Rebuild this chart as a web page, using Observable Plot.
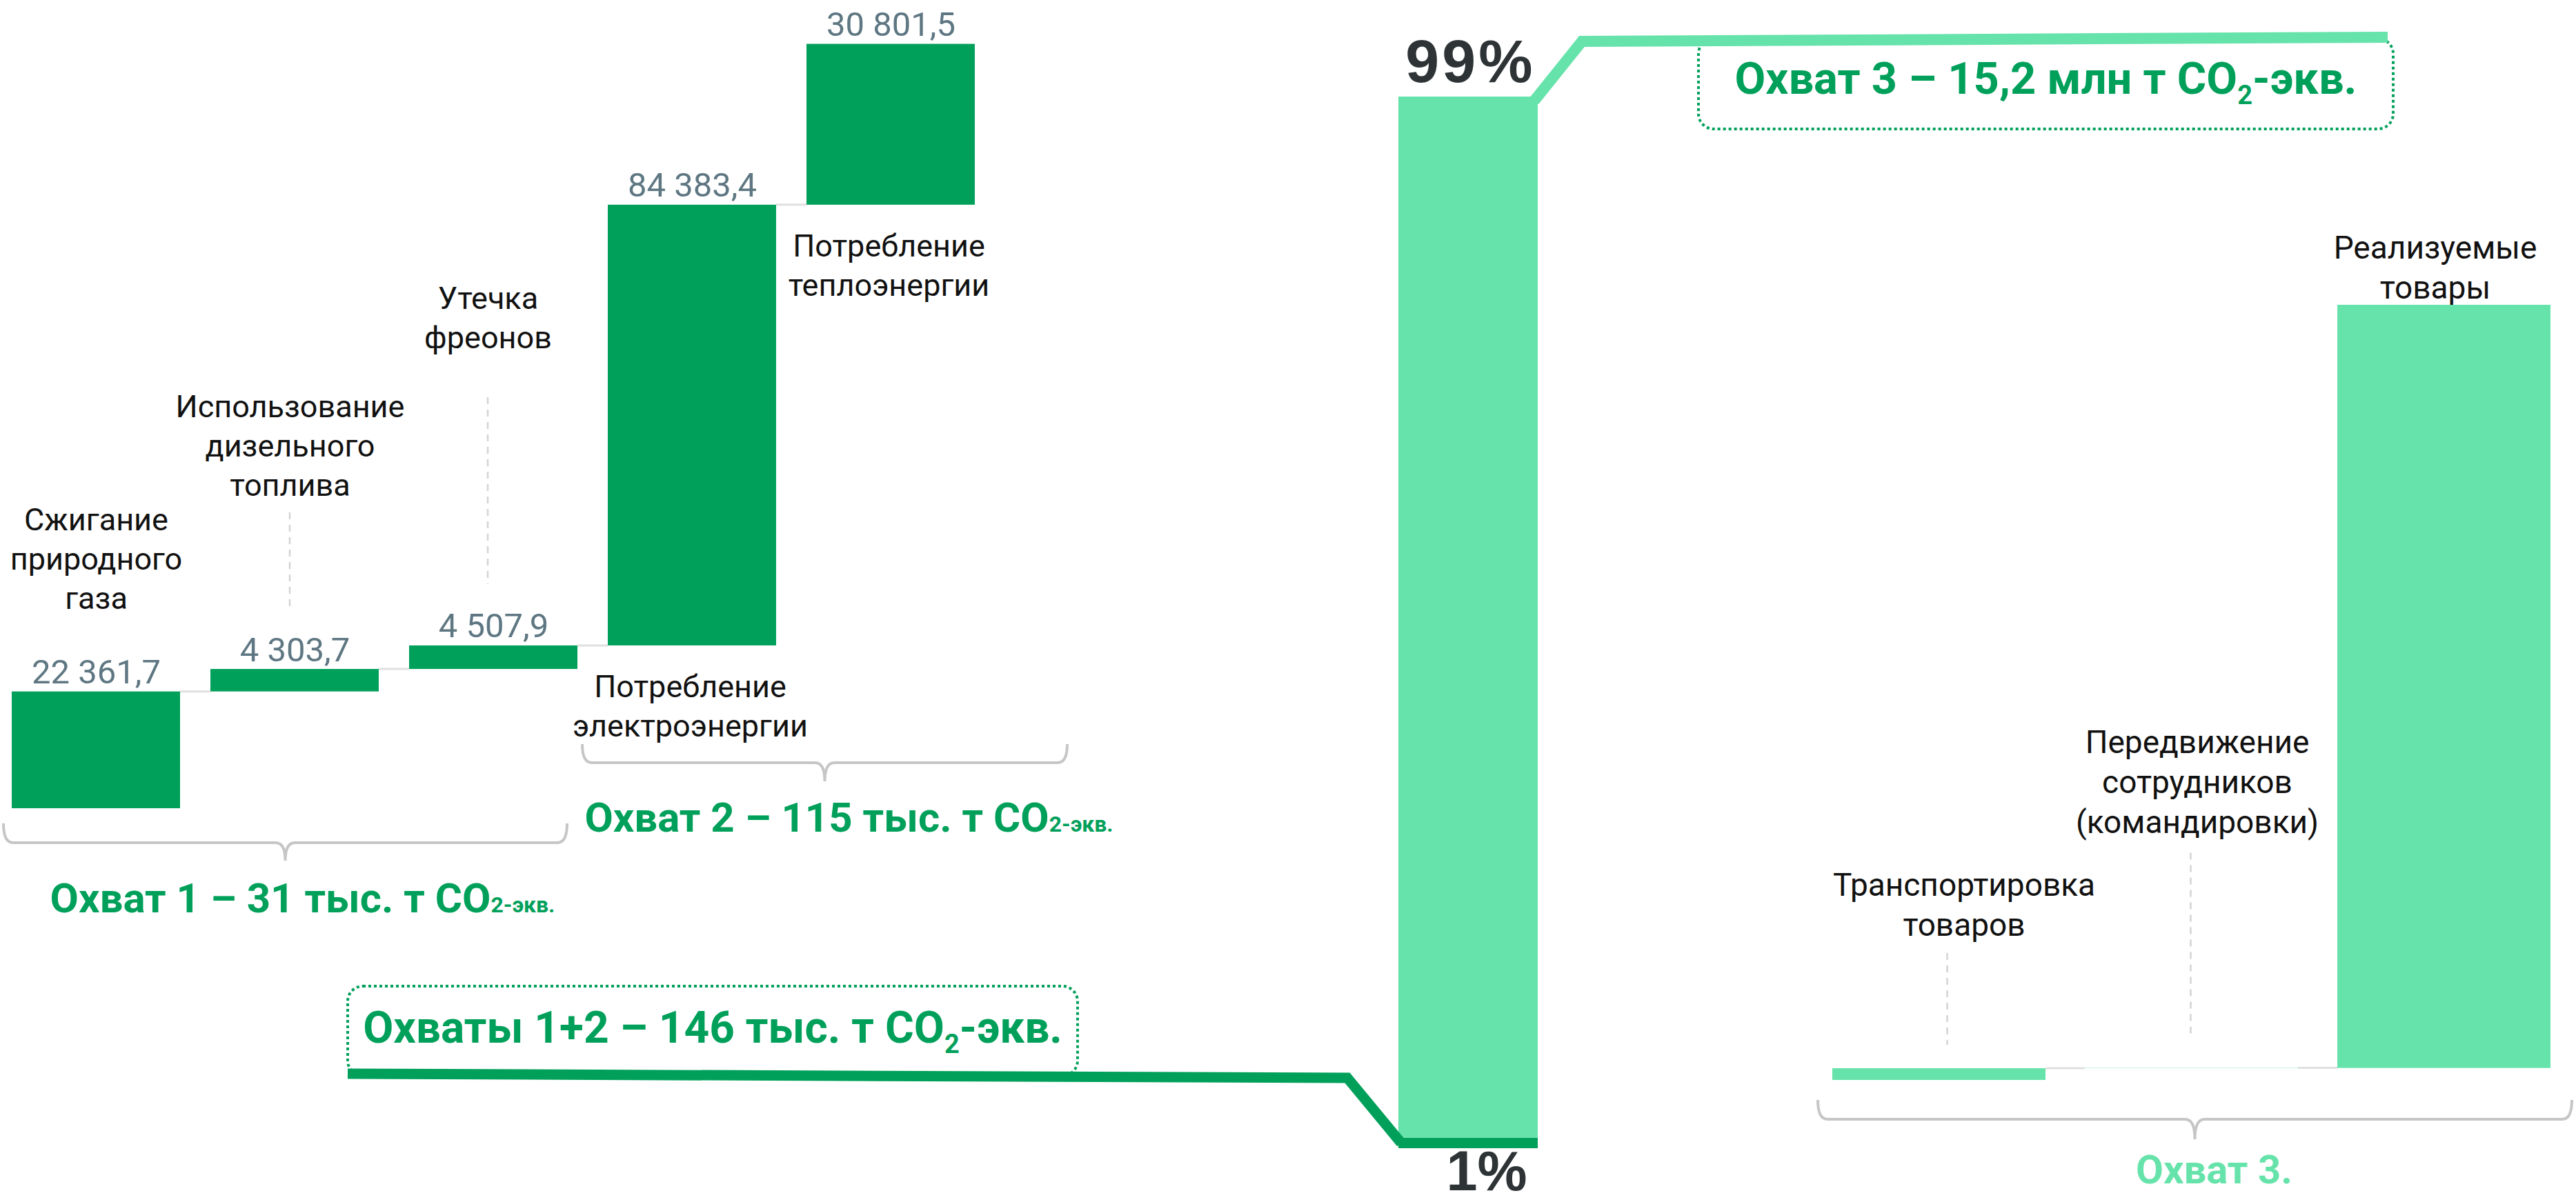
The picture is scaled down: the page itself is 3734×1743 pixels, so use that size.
<!DOCTYPE html>
<html><head><meta charset="utf-8">
<script src="https://cdn.jsdelivr.net/npm/d3@7"></script>
<script src="https://cdn.jsdelivr.net/npm/@observablehq/plot@0.6"></script>
<style>
html,body{margin:0;padding:0;background:#fff;}
#chart{position:relative;width:3734px;height:1743px;overflow:hidden;}
#chart svg{position:absolute;left:0;top:0;}
#chart g[aria-description="pct-top"] text{letter-spacing:4px;}
</style></head><body><div id="chart"></div>
<script>
// ---------------- DATA ----------------
const scope12Names = ["Сжигание природного газа", "Использование дизельного топлива", "Утечка фреонов", "Потребление электроэнергии", "Потребление теплоэнергии"];
const scope12Labels = ["Сжигание\nприродного\nгаза", "Использование\nдизельного\nтоплива", "Утечка\nфреонов", "Потребление\nэлектроэнергии", "Потребление\nтеплоэнергии"];
const scope12Values = [22361.7, 4303.7, 4507.9, 84383.4, 30801.5]; // т CO2-экв.
const scope12Scope = [1, 1, 1, 2, 2];

const scope3Names = ["Транспортировка товаров", "Передвижение сотрудников (командировки)", "Реализуемые товары"];
const scope3Labels = ["Транспортировка\nтоваров", "Передвижение\nсотрудников\n(командировки)", "Реализуемые\nтовары"];
const scope3Values = [230, 5, 14965]; // тыс. т CO2-экв. (оценка по рисунку)

const shareNames = ["Охваты 1+2", "Охват 3"];
const shareValues = [1, 99]; // %

// ---------------- LAYOUT & STYLE ----------------
const W = 3734, H = 1743;
const COL = {dark: "#00a05a", light: "#66e3aa", value: "#5e7782", text: "#111111", pct: "#2e3436",
             brace: "#c6c6c6", conn: "#e0e0e0", lead: "#d3d3d3"};
const FONT = "Roboto, 'Noto Sans', sans-serif";
const PCT_FONT = "'Liberation Sans', Arial, sans-serif";
const A = {x0: 15, x1: 1416, base: 1172, top: 36, yMax: 150000, pad: 0.1522};
const B = {x0: 2027, x1: 2229, base: 1665, top: 140};
const Cc = {x0: 2655, x1: 3699, base: 1566, top: 87, yMax: 20000, pad: 0.155};
const labelLiftA = [120, 252, 431], labelDxA = [0, -7, -8];
const leadA = {1: [25, 91], 2: [71, 89]};
const labelLiftC = [192, 341, 9], labelDxC = [36, 8, -13];
const leadC = {0: [25, 34, 12], 1: [29, 43, -1]};
const box12 = {x0: 504, x1: 1562, y0: 1430, y1: 1560, textY: 1512};
const box3 = {x0: 2462, x1: 3469, y0: 56, y1: 187, textY: 136};

// ---------------- HELPERS ----------------
const ru = d3.formatLocale({decimal: ",", thousands: " ", grouping: [3], currency: ["", ""]});
const fmt1 = ru.format(",.1f");

function cumulate(names, values, extra) {
  let c = 0;
  return names.map((name, i) => { const start = c; c += values[i]; return {name, value: values[i], start, end: c, i, ...extra(i)}; });
}
const rows12 = cumulate(scope12Names, scope12Values, i => ({label: scope12Labels[i], scope: scope12Scope[i]}));
const rows3 = cumulate(scope3Names, scope3Values, i => ({label: scope3Labels[i]}));
const shareRows = cumulate(shareNames, shareValues, i => ({group: "Выбросы", pct: shareValues[i] + "%"}));

const s1 = Math.round(d3.sum(rows12.filter(d => d.scope === 1), d => d.value) / 1000);
const s2 = Math.round(d3.sum(rows12.filter(d => d.scope === 2), d => d.value) / 1000);
const s12 = Math.round(d3.sum(rows12, d => d.value) / 1000);
const s3 = ru.format(".1f")(d3.sum(rows3, d => d.value) / 1000);

function rich(g, x, y, parts, o) {
  const t = g.append("text").attr("x", x).attr("y", y).attr("text-anchor", o.anchor || "middle")
    .attr("font-family", FONT).attr("font-size", o.size).attr("font-weight", o.weight || 700).attr("fill", o.fill);
  for (const p of parts) {
    const s = t.append("tspan").text(p.t);
    if (p.size) s.attr("font-size", p.size);
    if (p.dy) s.attr("dy", p.dy);
  }
  return t;
}
function brace(g, x0, x1, yTop, yLine, yTip) {
  const xc = (x0 + x1) / 2, r = 14;
  const d = `M${x0},${yTop} Q${x0},${yLine} ${x0 + r},${yLine} L${xc - r},${yLine} Q${xc},${yLine} ${xc},${yTip}` +
            ` M${x1},${yTop} Q${x1},${yLine} ${x1 - r},${yLine} L${xc + r},${yLine} Q${xc},${yLine} ${xc},${yTip}`;
  g.append("path").attr("d", d).attr("fill", "none").attr("stroke", COL.brace).attr("stroke-width", 4);
  return xc;
}
function connectors(g, rows, x, y) {
  const bw = x.bandwidth();
  for (let i = 0; i < rows.length - 1; i++) {
    g.append("line").attr("x1", x(rows[i].name) + bw).attr("x2", x(rows[i + 1].name))
      .attr("y1", y(rows[i].end)).attr("y2", y(rows[i].end)).attr("stroke", COL.conn).attr("stroke-width", 3);
  }
}
function leader(g, xx, y1, y2) {
  g.append("line").attr("x1", xx).attr("x2", xx).attr("y1", y1).attr("y2", y2)
    .attr("stroke", COL.lead).attr("stroke-width", 2.5).attr("stroke-dasharray", "10 8");
}
const baseStyle = {background: "none", fontFamily: FONT, overflow: "visible"};

// ---------------- PLOT A : Охваты 1 и 2 ----------------
const plotA = Plot.plot({
  width: W, height: H,
  marginLeft: A.x0, marginRight: W - A.x1, marginTop: A.top, marginBottom: H - A.base,
  x: {type: "band", domain: scope12Names, paddingInner: A.pad, paddingOuter: 0, axis: null},
  y: {domain: [0, A.yMax], axis: null},
  style: baseStyle,
  marks: [
    (index, scales) => { const g = d3.create("svg:g"); connectors(g, rows12, scales.x, scales.y); return g.node(); },
    Plot.barY(rows12, {x: "name", y1: "start", y2: "end", fill: COL.dark}),
    Plot.text(rows12, {x: "name", y: "end", text: d => fmt1(d.value), dy: -12, lineAnchor: "bottom", fontSize: 49, fill: COL.value}),
    ...[0, 1, 2].map(k => Plot.text([rows12[k]], {x: "name", y: "end", text: "label", dy: -labelLiftA[k], dx: labelDxA[k],
      lineAnchor: "bottom", lineHeight: 1.267, fontSize: 45, fill: COL.text})),
    Plot.text(rows12.filter(d => d.scope === 2), {x: "name", y: "start", text: "label", dy: 34, dx: -3,
      lineAnchor: "top", lineHeight: 1.267, fontSize: 45, fill: COL.text}),
    (index, scales) => {
      const {x, y} = scales, bw = x.bandwidth(), g = d3.create("svg:g"), y0 = y(0);
      for (const k of [1, 2]) {
        const r = rows12[k], cx = x(r.name) + bw / 2 + labelDxA[k], top = y(r.end);
        leader(g, cx, top - labelLiftA[k] + leadA[k][0], top - leadA[k][1]);
      }
      const xc1 = brace(g, x(rows12[0].name) - 12, x(rows12[2].name) + bw - 15, y0 + 22, y0 + 50, y0 + 76);
      const xc2 = brace(g, x(rows12[3].name) - 37, x(rows12[4].name) + bw + 134, y0 - 93, y0 - 66, y0 - 39);
      rich(g, xc1 + 25, y0 + 151, [{t: `Охват 1 – ${s1} тыс. т CO`}, {t: "2-экв.", size: 32}], {size: 60, fill: COL.dark});
      rich(g, xc2 + 35, y0 + 34, [{t: `Охват 2 – ${s2} тыс. т CO`}, {t: "2-экв.", size: 32}], {size: 60, fill: COL.dark});
      return g.node();
    }
  ]
});

// ---------------- PLOT B : доли охватов ----------------
const bwB = B.x1 - B.x0;
const plotB = Plot.plot({
  width: W, height: H,
  marginLeft: B.x0, marginRight: W - B.x1, marginTop: B.top, marginBottom: H - B.base,
  x: {type: "band", domain: ["Выбросы"], padding: 0, axis: null},
  y: {domain: [0, 100], axis: null},
  color: {domain: shareNames, range: [COL.dark, COL.light]},
  style: baseStyle,
  marks: [
    (index, scales) => {
      const g = d3.create("svg:g");
      for (const b of [box12, box3]) {
        g.append("rect").attr("x", b.x0).attr("y", b.y0).attr("width", b.x1 - b.x0).attr("height", b.y1 - b.y0)
          .attr("rx", 22).attr("fill", "none").attr("stroke", COL.dark).attr("stroke-width", 4).attr("stroke-dasharray", "4 4");
      }
      return g.node();
    },
    Plot.barY(shareRows, {x: "group", y1: "start", y2: "end", fill: "name"}),
    Plot.text(shareRows.slice(1), {x: "group", y: "end", text: "pct", dy: -22, dx: bwB / 2 - 4, textAnchor: "end",
      lineAnchor: "bottom", fontSize: 88, fontWeight: 700, fontFamily: PCT_FONT, fill: COL.pct, ariaDescription: "pct-top"}),
    Plot.text(shareRows.slice(0, 1), {x: "group", y: "start", text: "pct", dy: 60, dx: bwB / 2 - 16, textAnchor: "end",
      lineAnchor: "bottom", fontSize: 81, fontWeight: 700, fontFamily: PCT_FONT, fill: COL.pct}),
    (index, scales) => {
      const {x, y} = scales, g = d3.create("svg:g");
      const xb0 = x("Выбросы"), xb1 = xb0 + x.bandwidth();
      const line = d3.line();
      g.append("path").attr("d", line([[box12.x0, 1557], [xb0 - 74, 1563], [xb0 + 4, y(shareValues[0] / 2)]]))
        .attr("fill", "none").attr("stroke", COL.dark).attr("stroke-width", 15);
      g.append("path").attr("d", line([[xb1 - 5, y(100) + 6], [xb1 + 64, 60], [box3.x1 - 8, 54]]))
        .attr("fill", "none").attr("stroke", COL.light).attr("stroke-width", 16);
      rich(g, (box12.x0 + box12.x1) / 2, box12.textY,
        [{t: `Охваты 1+2 – ${s12} тыс. т CO`}, {t: "2", size: 38, dy: 15}, {t: "-экв.", dy: -15}], {size: 64, fill: COL.dark});
      rich(g, (box3.x0 + box3.x1) / 2, box3.textY,
        [{t: `Охват 3 – ${s3} млн т CO`}, {t: "2", size: 38, dy: 15}, {t: "-экв.", dy: -15}], {size: 65, fill: COL.dark});
      return g.node();
    }
  ]
});

// ---------------- PLOT C : Охват 3 ----------------
const plotC = Plot.plot({
  width: W, height: H,
  marginLeft: Cc.x0, marginRight: W - Cc.x1, marginTop: Cc.top, marginBottom: H - Cc.base,
  x: {type: "band", domain: scope3Names, paddingInner: Cc.pad, paddingOuter: 0, axis: null},
  y: {domain: [0, Cc.yMax], axis: null},
  style: baseStyle,
  marks: [
    (index, scales) => { const g = d3.create("svg:g"); connectors(g, rows3, scales.x, scales.y); return g.node(); },
    Plot.barY(rows3, {x: "name", y1: "start", y2: "end", fill: COL.light}),
    ...[0, 1, 2].map(k => Plot.text([rows3[k]], {x: "name", y: "end", text: "label", dy: -labelLiftC[k], dx: labelDxC[k],
      lineAnchor: "bottom", lineHeight: 1.267, fontSize: 46, fill: COL.text})),
    (index, scales) => {
      const {x, y} = scales, bw = x.bandwidth(), g = d3.create("svg:g"), y0 = y(0);
      for (const k of [0, 1]) {
        const r = rows3[k], top = y(r.end), cx = x(r.name) + bw / 2 + leadC[k][2];
        leader(g, cx, top - labelLiftC[k] + leadC[k][0], top - leadC[k][1]);
      }
      const xc = brace(g, x(rows3[0].name) - 21, x(rows3[2].name) + bw + 31, y0 + 29, y0 + 57, y0 + 86);
      rich(g, xc + 28, y0 + 150, [{t: "Охват 3."}], {size: 58, fill: COL.light});
      return g.node();
    }
  ]
});

document.getElementById("chart").append(plotA, plotB, plotC);
</script></body></html>
